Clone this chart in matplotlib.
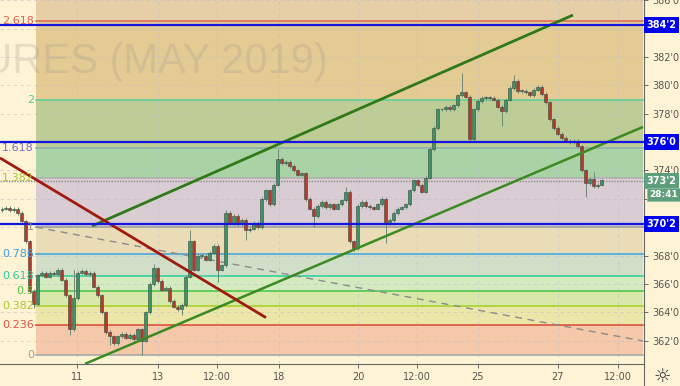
import matplotlib.pyplot as plt
from matplotlib.lines import Line2D

# hourly closes, one bar every 4 px, each bar opens at the previous close
first_open = 371.2
closes = [
    371.3, 371.35, 371.2, 371.3, 371.0, 370.4, 369.0, 365.5, 364.6, 366.6,
    366.8, 366.5, 366.8, 366.7, 367.0, 366.3, 365.2, 362.8, 365.0, 366.8,
    366.9, 366.7, 366.8, 365.8, 365.2, 364.0, 362.6, 362.3, 361.8, 362.3,
    362.5, 362.2, 362.4, 362.1, 362.8, 362.0, 364.0, 366.0, 367.1, 366.2,
    365.6, 365.7, 364.8, 364.4, 364.2, 364.5, 366.5, 369.0, 367.0, 368.0,
    368.0, 367.7, 368.2, 368.7, 367.0, 367.3, 371.0, 370.3, 370.8, 370.2,
    370.5, 369.8, 369.9, 370.3, 370.0, 372.0, 372.6, 371.6, 373.0, 374.8,
    374.5, 374.6, 374.3, 374.0, 373.7, 373.8, 372.0, 371.3, 370.8, 371.5,
    371.8, 371.4, 371.6, 371.3, 371.6, 371.9, 372.5, 369.0, 368.5, 371.5,
    371.8, 371.5, 371.4, 371.3, 371.6, 372.0, 370.3, 370.5, 371.0, 371.3,
    371.4, 371.6, 372.6, 373.3, 373.0, 372.5, 373.5, 375.5, 377.0, 378.3,
    378.3, 378.5, 378.3, 378.6, 379.3, 379.5, 379.2, 376.2, 378.3, 378.9,
    379.1, 379.1, 379.1, 379.0, 378.5, 378.2, 379.0, 379.8, 380.3, 379.6,
    379.6, 379.5, 379.3, 379.7, 379.9, 379.4, 378.8, 377.6, 377.0, 376.6,
    376.3, 376.1, 376.0, 376.1, 375.7, 374.0, 373.1, 373.4, 372.9, 373.0,
    373.3,
]
# long wicks that stick out of the bodies
wick_high = {18: 367.0, 38: 367.4, 47: 369.8, 56: 371.2, 69: 375.5, 86: 372.8,
             115: 380.9, 128: 380.7, 148: 373.9}
wick_low = {8: 364.3, 17: 362.4, 27: 361.7, 35: 361.0, 45: 363.8, 54: 366.1,
            61: 369.1, 78: 370.0, 88: 368.3, 96: 368.9, 117: 376.0, 125: 377.1,
            146: 372.1}

# fibonacci extension
fib_low, fib_high = 361.0, 370.0
fib_ratios = [0, 0.236, 0.382, 0.5, 0.618, 0.786, 1, 1.382, 1.618, 2, 2.618]
fib_labels = ['0', '0.236', '0.382', '0.5', '0.618', '0.786', '1', '1.382', '1.618', '2', '2.618']
fib_line_colors = ['#A8A8A8', '#E0503C', '#A8D030', '#50C850', '#38D0A0', '#48A8E0',
                   '#A0A0A0', '#B0B0B0', '#8FB0B0', '#60D098', '#E0705A']
fib_text_colors = ['#A0A0A0', '#E05040', '#A8C830', '#50C840', '#30C89A', '#40A0E0',
                   '#909090', '#A8C838', '#7070C8', '#50D0A0', '#E06050']
zone_colors = ['#F4C8A8', '#ECE6A9', '#D7E8A9', '#D4EBC0', '#D2DFC8', '#E9DCB6',
               '#D9CCD3', '#A9D2A5', '#BECC95', '#E4CB93', '#E6CEA6']

# horizontal levels
blue_levels = [384.25, 376.0, 370.25]
blue_labels = ["384'2", "376'0", "370'2"]
last_price = 373.25

# trend lines (bar index, price)
upper_channel = ([22.5, 142.75], [370.08, 384.96])
lower_channel = ([20.75, 160.25], [360.36, 377.07])
down_line = ([-0.5, 66.0], [374.88, 363.62])
dashed_line = ([8.5, 160.25], [370.0, 361.97])

tick_idx = [18.75, 39, 53.75, 69.25, 89, 103.75, 119, 139, 154]
tick_labels = ['11', '13', '12:00', '18', '20', '12:00', '25', '27', '12:00']
price_ticks = list(range(362, 387, 2))
hidden_ticks = [370, 372, 376, 384]   # covered by the tags on the right

bg = '#FEF3D4'
fig = plt.figure(figsize=(6.8, 3.86), dpi=100, facecolor=bg)
ax = fig.add_axes([0, 22 / 386, 644 / 680, 364 / 386])
ax.set_facecolor(bg)
ax.set_xlim(-0.5, 160.5)
ax.set_ylim(360.35, 386.02)

# fib zones
x0, x1 = 8.5, 160.25
levels = [fib_low + r * (fib_high - fib_low) for r in fib_ratios] + [386.02]
for k in range(len(levels) - 1):
    ax.fill_between([x0, x1], levels[k], levels[k + 1], color=zone_colors[k], lw=0, zorder=0)
for k, r in enumerate(fib_ratios):
    ax.plot([x0, x1], [levels[k]] * 2, color=fib_line_colors[k], lw=1.2, zorder=1)
    ax.text(8.0, levels[k], fib_labels[k], ha='right', va='center', fontsize=8,
            color=fib_text_colors[k], zorder=5)

# grid
for t in tick_idx:
    ax.axvline(t, color='#B8BCD0', lw=0.6, ls=(0, (4, 4)), alpha=0.6, zorder=0.5)
for p in price_ticks:
    ax.axhline(p, color='#B8BCD0', lw=0.6, ls=(0, (4, 4)), alpha=0.6, zorder=0.5)

# candles
opens = [first_open] + closes[:-1]
for i, (o, c) in enumerate(zip(opens, closes)):
    up = c >= o
    col = '#3E9468' if up else '#B43A2A'
    hi = wick_high.get(i, max(o, c) + 0.12)
    lo = wick_low.get(i, min(o, c) - 0.12)
    ax.vlines(i, lo, hi, color='#6F8A78', lw=0.7, zorder=2)
    h = abs(c - o) if abs(c - o) > 0.06 else 0.06
    ax.bar(i, h, bottom=min(o, c), width=0.75, color=col, edgecolor='#3A4A40',
           linewidth=0.4, zorder=3)

# trend lines
ax.plot(*upper_channel, color='#2F7A18', lw=2, zorder=4, solid_capstyle='butt')
ax.plot(*lower_channel, color='#3C8A22', lw=1.8, zorder=4, solid_capstyle='butt')
ax.plot(*down_line, color='#A01A10', lw=2, zorder=4, solid_capstyle='butt')
ax.plot(*dashed_line, color='#8C8C8C', lw=1, ls=(0, (5, 4)), zorder=1.5)

# horizontal levels and right-hand tags
ax.axhline(last_price, color='#8C8C8C', lw=1, ls=(0, (1, 1)), zorder=1.6)
for p, lab in zip(blue_levels, blue_labels):
    ax.axhline(p, color='#1515E0', lw=1.6, zorder=4)
    ax.annotate(lab, xy=(1.004, p), xycoords=('axes fraction', 'data'), ha='left', va='center',
                fontsize=7, color='white', fontweight='bold', annotation_clip=False, zorder=10,
                bbox=dict(boxstyle='square,pad=0.3', fc='#0000F0', ec='none'))
ax.annotate("373'2", xy=(1.004, last_price), xycoords=('axes fraction', 'data'), ha='left',
            va='center', fontsize=7, color='white', fontweight='bold', annotation_clip=False,
            zorder=10, bbox=dict(boxstyle='square,pad=0.3', fc='#5E9E7C', ec='none'))
ax.annotate('28:41', xy=(1.008, last_price - 0.95), xycoords=('axes fraction', 'data'),
            ha='left', va='center', fontsize=6.5, color='white', fontweight='bold',
            annotation_clip=False, zorder=10,
            bbox=dict(boxstyle='square,pad=0.25', fc='#5E9E7C', ec='#8FC0A0', lw=0.6))

# watermark
ax.text(328 / 680, 1 - 73 / 386, 'CORN FUTURES (MAY 2019)', transform=fig.transFigure,
        ha='right', va='baseline', fontsize=30, family=['Liberation Sans', 'DejaVu Sans'],
        color='#9C9890', alpha=0.25, zorder=0.6)

# axes
for s in ['top', 'left']:
    ax.spines[s].set_visible(False)
ax.spines['right'].set_color('#666666')
ax.spines['bottom'].set_color('#666666')
ax.yaxis.tick_right()
ax.set_yticks(price_ticks)
ax.set_yticklabels(['' if p in hidden_ticks else f"{p}'0" for p in price_ticks])
ax.set_xticks(tick_idx)
ax.set_xticklabels(tick_labels)
ax.tick_params(axis='both', labelsize=7, colors='#555555', length=3, width=0.6, pad=3)

fig.add_artist(Line2D([644 / 680, 644 / 680], [0, 22 / 386], color='#666666', lw=0.8))
fig.text(662 / 680, 1 - 376 / 386, '\u263C', ha='center', va='center', fontsize=14,
         color='#333333')

fig.savefig('out.png', dpi=100, facecolor=bg)
